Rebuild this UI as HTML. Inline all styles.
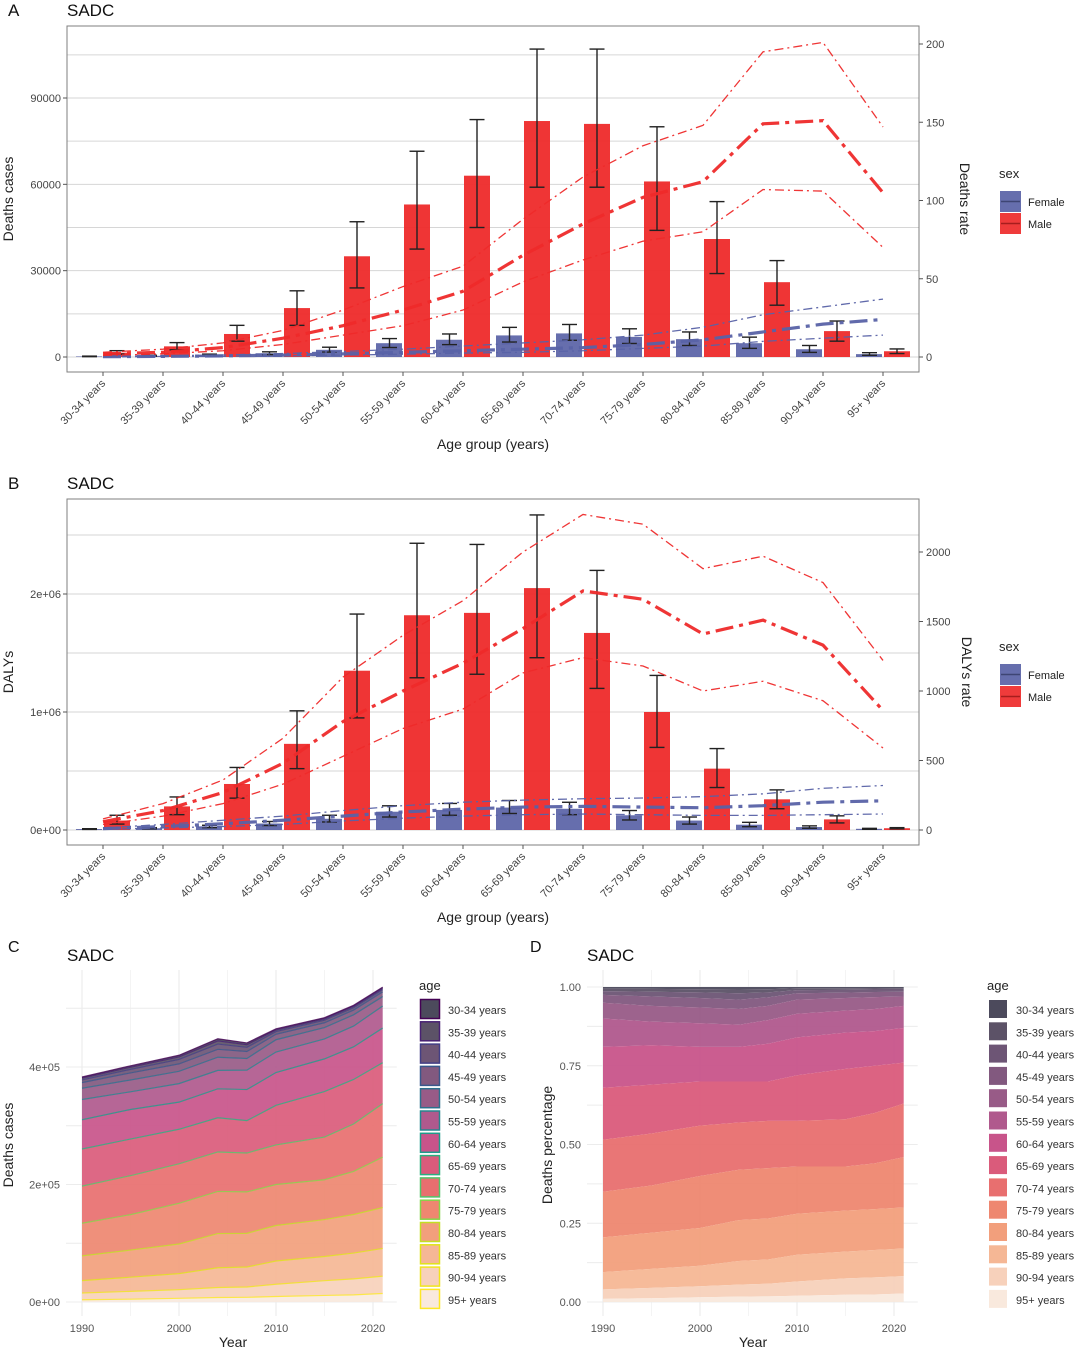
<!DOCTYPE html>
<html><head><meta charset="utf-8"><style>
body{margin:0;background:#fff;}
svg text{font-family:"Liberation Sans",sans-serif;}
</style></head><body>
<svg id="fig" width="1080" height="1350" viewBox="0 0 1080 1350" xmlns="http://www.w3.org/2000/svg"></svg>
<script>
// ---------- data ----------
const ageGroups = ["30-34 years","35-39 years","40-44 years","45-49 years","50-54 years","55-59 years","60-64 years","65-69 years","70-74 years","75-79 years","80-84 years","85-89 years","90-94 years","95+ years"];
// Panel A: deaths
const deathsMale = [1500,3700,8000,17000,35000,53000,63000,82000,81000,61000,41000,26000,9000,2000];
const deathsMaleLo = [1000,2500,5500,11000,24000,37500,45000,59000,59000,44000,29000,18000,5500,1200];
const deathsMaleHi = [2200,5000,11000,23000,47000,71500,82500,107000,107000,80000,54000,33500,12500,2800];
const deathsFemale = [200,400,700,1300,2500,4800,6000,7500,8200,7000,6200,4800,2700,1000];
const deathsFemaleLo = [120,250,450,850,1700,3300,4300,5200,5800,4700,4000,3000,1600,600];
const deathsFemaleHi = [300,600,1000,1800,3400,6400,8000,10300,11300,9800,8700,6900,4000,1500];
const deathRateMale = [2,3,6,12,20,30,42,65,85,102,112,149,151,105];
const deathRateMaleHi = [3,5,9,17,30,45,58,88,115,135,148,195,201,147];
const deathRateMaleLo = [1,2,4,8,14,20,30,48,62,74,80,107,106,70];
const deathRateFemale = [0.2,0.4,0.7,1.2,2,3,4,5,6,8,11,16,21,24];
const deathRateFemaleHi = [0.4,0.8,1.3,2.2,3.5,5,7,9,11,14,19,27,32,37];
const deathRateFemaleLo = [0.1,0.2,0.4,0.7,1.2,1.8,2.5,3,4,5.5,7,10,12,14];
// Panel B: DALYs
const dalysMale = [80000,200000,390000,730000,1350000,1820000,1840000,2050000,1670000,1000000,520000,260000,90000,15000];
const dalysMaleLo = [50000,130000,270000,520000,950000,1290000,1320000,1460000,1200000,700000,360000,180000,60000,10000];
const dalysMaleHi = [125000,280000,530000,1010000,1830000,2430000,2420000,2670000,2200000,1310000,690000,340000,120000,20000];
const dalysFemale = [8000,15000,30000,55000,95000,155000,170000,190000,180000,125000,80000,45000,25000,10000];
const dalysFemaleLo = [5000,10000,20000,38000,68000,110000,125000,140000,130000,85000,50000,28000,15000,6000];
const dalysFemaleHi = [11000,20000,40000,72000,125000,205000,225000,250000,235000,165000,110000,65000,35000,14000];
const dalyRateMale = [60,140,270,480,780,1000,1200,1450,1720,1660,1410,1510,1330,860];
const dalyRateMaleHi = [80,190,360,660,1100,1400,1650,2000,2270,2200,1880,1970,1780,1220];
const dalyRateMaleLo = [40,100,190,330,530,730,870,1130,1240,1180,1000,1070,930,590];
const dalyRateFemale = [10,25,45,70,100,130,150,165,170,165,160,175,200,210];
const dalyRateFemaleHi = [15,40,70,100,140,175,200,215,225,230,240,260,300,320];
const dalyRateFemaleLo = [5,15,25,40,65,85,100,110,115,110,105,105,110,115];
// Panels C/D: deaths by year (thousands) and cumulative share from 95+ upward
const years = [1990,1995,2000,2004,2007,2010,2015,2018,2021];
const totalDeathsK = [383,402,420,448,441,465,484,505,536];
const cumShare1990 = [.01,.04,.095,.205,.35,.515,.68,.81,.90,.95,.975,.987,.995,1];
const cumShare1995 = [.012,.045,.105,.22,.37,.535,.69,.815,.89,.94,.97,.985,.994,1];
const cumShare2000 = [.015,.05,.115,.235,.40,.56,.70,.81,.885,.935,.965,.983,.993,1];
const cumShare2004 = [.017,.055,.13,.26,.42,.57,.70,.81,.88,.93,.96,.98,.992,1];
const cumShare2007 = [.018,.058,.135,.265,.425,.575,.70,.82,.895,.94,.967,.983,.993,1];
const cumShare2010 = [.02,.065,.15,.28,.43,.575,.72,.84,.915,.96,.98,.99,.996,1];
const cumShare2015 = [.023,.075,.16,.29,.43,.58,.74,.855,.925,.965,.982,.991,.996,1];
const cumShare2018 = [.024,.078,.165,.295,.44,.60,.75,.86,.93,.968,.984,.992,.997,1];
const cumShare2021 = [.027,.082,.17,.30,.46,.63,.76,.87,.94,.97,.985,.992,.996,1];
const cumShares = [cumShare1990,cumShare1995,cumShare2000,cumShare2004,cumShare2007,cumShare2010,cumShare2015,cumShare2018,cumShare2021];
const ticksA = [0,30000,60000,90000];
const ticksAR = [0,50,100,150,200];
const ticksB = [0,1e6,2e6];
const ticksBLabels = ["0e+00","1e+06","2e+06"];
const ticksBR = [0,500,1000,1500,2000];
const ticksC = [0,2e5,4e5];
const ticksCLabels = ["0e+00","2e+05","4e+05"];
const ticksD = [0,0.25,0.5,0.75,1];
const ticksDLabels = ["0.00","0.25","0.50","0.75","1.00"];
const ticksYear = [1990,2000,2010,2020];

// ---------- helpers ----------
const NS="http://www.w3.org/2000/svg", svg=document.getElementById('fig');
function mk(tag,attrs,parent,txt){const e=document.createElementNS(NS,tag);for(const k in attrs)e.setAttribute(k,attrs[k]);if(txt!==undefined)e.textContent=txt;(parent||svg).appendChild(e);return e;}
function grp(name){const g=document.createElementNS(NS,'g');svg.appendChild(g);return g;}
function txt(parent,x,y,s,size,anchor,fill,name,rot){const t=mk('text',{x:x,y:y,'font-size':size,'text-anchor':anchor||'start',fill:fill||'#222'},parent,s);
 if(rot!==undefined)t.setAttribute('transform','rotate('+rot+' '+x+' '+y+')');
 
 return t;}

const MALE='#ee2a2a', FEMALE='#5962a6';
const xc = i => 103 + 60*i;

function barPanel(cfg){
 const g=grp(cfg.name);
 const top=cfg.top,bot=cfg.bot,zero=cfg.zero;
 const yL=v=>zero - v/cfg.lMax*(zero-cfg.lMaxY);
 const yR=v=>zero - v/cfg.rMax*(zero-cfg.rMaxY);
 txt(g,8,cfg.top-10,cfg.letter,17,'start','#111','panel-letter');
 txt(g,67,cfg.top-10,'SADC',17,'start','#111','panel-title');
 mk('rect',{x:67,y:top,width:852,height:bot-top,fill:'#fff'},g);
 cfg.grid.forEach(v=>{const l=mk('line',{x1:67,x2:919,y1:yL(v),y2:yL(v),stroke:'#d6d6d6','stroke-width':1},g);});
 ageGroups.forEach((a,i)=>{
  const c=xc(i);
  const fb=mk('rect',{x:c-27,y:yL(cfg.f[i]),width:26,height:zero-yL(cfg.f[i]),fill:FEMALE,'fill-opacity':0.92},g);
  
  
  const mb=mk('rect',{x:c+1,y:yL(cfg.m[i]),width:26,height:zero-yL(cfg.m[i]),fill:MALE,'fill-opacity':0.95},g);
  
  
  [[c-13.5,cfg.fLo[i],cfg.fHi[i]],[c+14,cfg.mLo[i],cfg.mHi[i]]].forEach(e=>{
   const eg=document.createElementNS(NS,'g');g.appendChild(eg);
   
   
   mk('line',{x1:e[0],x2:e[0],y1:yL(e[1]),y2:yL(e[2]),stroke:'#222','stroke-width':1.4},eg);
   mk('line',{x1:e[0]-7.5,x2:e[0]+7.5,y1:yL(e[1]),y2:yL(e[1]),stroke:'#222','stroke-width':1.4},eg);
   mk('line',{x1:e[0]-7.5,x2:e[0]+7.5,y1:yL(e[2]),y2:yL(e[2]),stroke:'#222','stroke-width':1.4},eg);
  });
 });
 const lines=[[cfg.rf,FEMALE,3.2,'18,6,4,6','rate-line-female'],[cfg.rfHi,FEMALE,1.3,'9,4,2,4','rate-upper-female'],[cfg.rfLo,FEMALE,1.3,'9,4,2,4','rate-lower-female'],
  [cfg.rm,MALE,3.2,'18,6,4,6','rate-line-male'],[cfg.rmHi,MALE,1.3,'9,4,2,4','rate-upper-male'],[cfg.rmLo,MALE,1.3,'9,4,2,4','rate-lower-male']];
 lines.forEach(L=>{const p=mk('polyline',{points:L[0].map((v,i)=>xc(i)+','+yR(v)).join(' '),fill:'none',stroke:L[1],'stroke-width':L[2],'stroke-dasharray':L[3],'stroke-opacity':0.95},g);
  });
 mk('rect',{x:67,y:top,width:852,height:bot-top,fill:'none',stroke:'#7f7f7f','stroke-width':1},g);
 cfg.lTicks.forEach((v,k)=>{mk('line',{x1:63,x2:67,y1:yL(v),y2:yL(v),stroke:'#555'},g);txt(g,61,yL(v)+4,cfg.lLabels?cfg.lLabels[k]:String(v),11,'end','#444','y-tick-label');});
 cfg.rTicks.forEach(v=>{mk('line',{x1:919,x2:923,y1:yR(v),y2:yR(v),stroke:'#555'},g);txt(g,926,yR(v)+4,String(v),11,'start','#444','y2-tick-label');});
 ageGroups.forEach((a,i)=>{mk('line',{x1:xc(i),x2:xc(i),y1:bot,y2:bot+4,stroke:'#555'},g);txt(g,xc(i)+3,bot+12,a,11,'end','#444','x-tick-label',-45);});
 txt(g,493,bot+77,'Age group (years)',14,'middle','#222','x-axis-title');
 txt(g,13,(top+bot)/2,cfg.lTitle,14,'middle','#222','y-axis-title',-90);
 txt(g,cfg.rTitleX,(top+bot)/2,cfg.rTitle,14,'middle','#222','y2-axis-title',90);
 // legend
 const ly=cfg.legY;
 txt(g,999,ly,'sex',13,'start','#222','legend-title');
 [['Female',FEMALE],['Male',MALE]].forEach((s,k)=>{
  const eg=document.createElementNS(NS,'g');g.appendChild(eg);
  
  
  const y0=ly+13+k*22;
  mk('rect',{x:1000,y:y0,width:21,height:21,fill:s[1],'fill-opacity':0.92},eg);
  mk('line',{x1:1001,x2:1020,y1:y0+10.5,y2:y0+10.5,stroke:s[1],'stroke-width':1.5,filter:'brightness(0.7)'},eg);
  txt(eg,1028,y0+15,s[0],11,'start','#222','legend-label');
 });
}

barPanel({name:'panel-a',letter:'A',top:26,bot:372,zero:357,lMax:90000,lMaxY:98,rMax:200,rMaxY:44,
 grid:[0,15000,30000,45000,60000,75000,90000,105000],lTicks:ticksA,rTicks:ticksAR,
 m:deathsMale,mLo:deathsMaleLo,mHi:deathsMaleHi,f:deathsFemale,fLo:deathsFemaleLo,fHi:deathsFemaleHi,
 rm:deathRateMale,rmHi:deathRateMaleHi,rmLo:deathRateMaleLo,rf:deathRateFemale,rfHi:deathRateFemaleHi,rfLo:deathRateFemaleLo,
 lTitle:'Deaths cases',rTitle:'Deaths rate',rTitleX:960,legY:178});
barPanel({name:'panel-b',letter:'B',top:499,bot:845,zero:830,lMax:1e6,lMaxY:712,rMax:2000,rMaxY:552,
 grid:[0,5e5,1e6,1.5e6,2e6,2.5e6],lTicks:ticksB,lLabels:ticksBLabels,rTicks:ticksBR,
 m:dalysMale,mLo:dalysMaleLo,mHi:dalysMaleHi,f:dalysFemale,fLo:dalysFemaleLo,fHi:dalysFemaleHi,
 rm:dalyRateMale,rmHi:dalyRateMaleHi,rmLo:dalyRateMaleLo,rf:dalyRateFemale,rfHi:dalyRateFemaleHi,rfLo:dalyRateFemaleLo,
 lTitle:'DALYs',rTitle:'DALYs rate',rTitleX:962,legY:651});

// ---------- panels C and D ----------
const fills=['#4c4a5c','#5c5267','#6d5575','#82597f','#985b87','#b0598d','#c8548a','#da5b7b','#e86f6f','#ee8770','#f29f7c','#f5b795','#f7d1bb','#f9e9dd'];
const strokes=['#440154','#482173','#433e85','#38588c','#2d708e','#25858e','#1e9b8a','#2ab07f','#52c569','#86d549','#c2df23','#e0e318','#f0e51d','#fde725'];
function areaPanel(cfg){
 const g=grp(cfg.name);
 const X=y=>cfg.x0+(y-1990)*cfg.xs;
 const Y=cfg.Y;
 txt(g,cfg.letterX,952,cfg.letter,16,'start','#111','panel-letter');
 txt(g,cfg.titleX,961,'SADC',17,'start','#111','panel-title');
 [1990,1995,2000,2005,2010,2015,2020].forEach(y=>mk('line',{x1:X(y),x2:X(y),y1:cfg.gTop,y2:1316,stroke:'#ececec','stroke-width':y%10===0?1.1:0.6},g));
 cfg.gridY.forEach(v=>mk('line',{x1:cfg.x0-16,x2:X(2021)+14,y1:Y(v),y2:Y(v),stroke:'#ececec','stroke-width':1},g));
 const bounds=cumShares.map((s,j)=>s.map(v=>cfg.norm?v:v*totalDeathsK[j]*1000));
 for(let k=13;k>=0;k--){
  const ageIdx=13-k;
  const topPts=years.map((y,j)=>X(y)+','+Y(bounds[j][k]));
  const botPts=years.map((y,j)=>X(y)+','+Y(k>0?bounds[j][k-1]:0)).reverse();
  const p=mk('polygon',{points:topPts.concat(botPts).join(' '),fill:fills[ageIdx],'fill-opacity':cfg.norm?0.95:0.92},g);
  
  
 }
 if(!cfg.norm){for(let k=0;k<14;k++){const ageIdx=13-k;
  const l=mk('polyline',{points:years.map((y,j)=>X(y)+','+Y(bounds[j][k])).join(' '),fill:'none',stroke:strokes[ageIdx],'stroke-width':1.2,'stroke-opacity':0.8},g);
  }}
 cfg.ticks.forEach((v,k)=>txt(g,cfg.x0-22,Y(v)+4,cfg.tickLabels[k],11,'end','#555','y-tick-label'));
 ticksYear.forEach(y=>txt(g,X(y),1332,String(y),11,'middle','#555','x-tick-label'));
 txt(g,cfg.yearX,1347,'Year',14,'middle','#222','x-axis-title');
 txt(g,cfg.yTitleX,1145,cfg.yTitle,14,'middle','#222','y-axis-title',-90);
 txt(g,cfg.legX,990,'age',13,'start','#222','legend-title');
 ageGroups.forEach((a,i)=>{
  const eg=document.createElementNS(NS,'g');g.appendChild(eg);
  
  
  const y0=999+i*22.3;
  mk('rect',{x:cfg.legX+1.5,y:y0+0.5,width:19,height:19,fill:fills[i],stroke:cfg.norm?'#fff':strokes[i],'stroke-width':cfg.norm?1:1.5},eg);
  txt(eg,cfg.legX+29,y0+15,a,11,'start','#333','legend-label');
 });
}
areaPanel({name:'panel-c',letter:'C',letterX:8,titleX:67,x0:82,xs:9.7,Y:v=>1302-v/1e5*58.75,gTop:970,
 gridY:[0,1e5,2e5,3e5,4e5,5e5],ticks:ticksC,tickLabels:ticksCLabels,yearX:233,yTitleX:13,yTitle:'Deaths cases',legX:419,norm:false});
areaPanel({name:'panel-d',letter:'D',letterX:530,titleX:587,x0:603,xs:9.7,Y:v=>1302-v*315,gTop:970,
 gridY:[0,0.125,0.25,0.375,0.5,0.625,0.75,0.875,1],ticks:ticksD,tickLabels:ticksDLabels,yearX:753,yTitleX:552,yTitle:'Deaths percentage',legX:987,norm:true});
</script>
</body></html>
